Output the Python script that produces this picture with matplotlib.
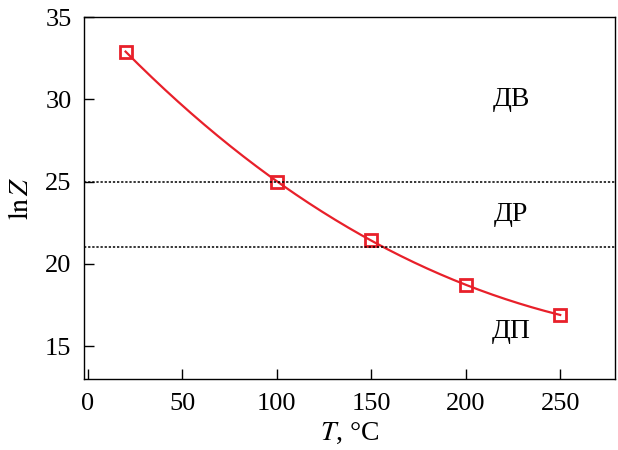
import numpy as np
import matplotlib
matplotlib.use('Agg')
import matplotlib.pyplot as plt

plt.rcParams['font.family'] = 'Liberation Serif'
plt.rcParams['mathtext.fontset'] = 'stix'

# data
T = [20, 100, 150, 200, 250]
lnZ = [32.9, 25.0, 21.45, 18.7, 16.9]
levels = [25, 21]
zone_labels = ['ДВ', 'ДР', 'ДП']
zone_x = [224, 224, 224]
zone_y = [30.0, 23.0, 15.9]

red = '#e8202a'

fig = plt.figure(figsize=(6.18, 4.5), dpi=100)
ax = fig.add_axes([84/618, 1 - 379/450, (615-84)/618, (379-17)/450])

# smooth fit curve through the measured points
coef = np.polyfit(T, lnZ, 3)
tt = np.linspace(T[0], T[-1], 200)
ax.plot(tt, np.polyval(coef, tt), color=red, lw=1.6)
ax.plot(T, lnZ, 's', ms=8.5, mfc='none', mec=red, mew=2.0)

for lv in levels:
    ax.axhline(lv, color='black', ls=(0, (1.5, 1.2)), lw=1.1)

for lab, x, y in zip(zone_labels, zone_x, zone_y):
    ax.text(x, y, lab, fontsize=20, ha='center', va='center')

ax.set_xlim(-2, 279)
ax.set_ylim(13, 35)
ax.set_xticks([0, 50, 100, 150, 200, 250])
ax.set_yticks([15, 20, 25, 30, 35])
ax.tick_params(direction='in', length=7, width=1, labelsize=19, pad=9,
               top=False, right=False)
ax.tick_params(axis='x', pad=10)
for s in ax.spines.values():
    s.set_linewidth(1.0)

ax.set_xlabel('$T$, °C', fontsize=20, labelpad=4)
ax.set_ylabel(r'$\mathrm{ln}\,Z$', fontsize=20, labelpad=8)

fig.savefig('out.png', dpi=100)
